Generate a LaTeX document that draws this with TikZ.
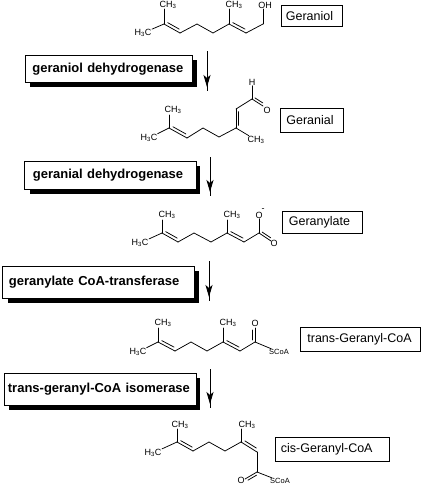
\documentclass[tikz,border=0pt]{standalone}
\usepackage{fontspec}
\setmainfont{Liberation Sans}
\usetikzlibrary{calc,arrows.meta}
\newcommand{\dbl}[3]{%
  \draw[bond] (#1) -- (#2);
  \coordinate (p) at ($(#1)!.14!(#2)$);
  \coordinate (q) at ($(#1)!.86!(#2)$);
  \draw[bond] ($(p)!#3!90:(q)$) -- ($(q)!#3!-90:(p)$);}
\newcommand{\methyl}{CH\textsubscript{3}}
\newcommand{\mhc}{H\textsubscript{3}C}
\tikzset{
  bond/.style={line width=0.75pt,line cap=round,line join=round},
  atomlabel/.style={font=\fontsize{9}{10}\selectfont,inner sep=0.6pt,outer sep=0pt},
  smalllabel/.style={font=\fontsize{7.5}{8}\selectfont,inner sep=0.6pt,outer sep=0pt},
  compound/.style={draw,line width=0.8pt,rectangle,font=\fontsize{12.5}{14}\selectfont,inner sep=0pt,anchor=north west,align=left},
  enzyme/.style={draw,line width=0.8pt,fill=white,rectangle,font=\bfseries\fontsize{13}{15}\selectfont,inner sep=0pt,anchor=north west,align=left},
  shadowbox/.style={fill=black,draw=none},
  flow/.style={line width=0.8pt},
  flowhead/.style={line width=0.8pt,-{Stealth[length=12pt,width=7pt,inset=3pt]}}
}
\begin{document}
\begin{tikzpicture}[x=1pt,y=-1pt]
\useasboundingbox (0,0) rectangle (424,485);
% --- enzyme boxes
\fill[shadowbox] (30,60) rectangle (197,87);
\node[enzyme,text width=167pt,minimum height=27pt] (e1) at (25,55) {\hspace*{7pt}geraniol dehydrogenase};
\fill[shadowbox] (30,166) rectangle (200,194);
\node[enzyme,text width=172pt,minimum height=28pt] (e2) at (24,161) {\hspace*{8.5pt}geranial dehydrogenase};
\fill[shadowbox] (8,271) rectangle (199,303);
\node[enzyme,text width=192pt,minimum height=32pt] (e3) at (2,266) {\hspace*{6.5pt}geranylate CoA-transferase};
\fill[shadowbox] (9,378) rectangle (200,410);
\node[enzyme,text width=192pt,minimum height=32pt] (e4) at (4,373) {\hspace*{3.5pt}trans-geranyl-CoA isomerase};
% --- compound boxes
\node[compound,text width=61pt,minimum height=21pt] (n1) at (281,5) {\hspace*{4.5pt}Geraniol};
\node[compound,text width=63pt,minimum height=24pt] (n2) at (280,108) {\hspace*{6pt}Geranial};
\node[compound,text width=80pt,minimum height=22pt] (n3) at (282,211) {\hspace*{6.5pt}Geranylate};
\node[compound,text width=120pt,minimum height=24pt] (n4) at (300,327) {\hspace*{7pt}trans-Geranyl-CoA};
\node[compound,text width=114pt,minimum height=24pt] (n5) at (275,437) {\hspace*{5.5pt}cis-Geranyl-CoA};
% --- reaction arrows
\foreach \i/\x/\ya/\yh/\yb in {1/207/51/87/91,2/210/157/192/196,3/209/261/297/301,4/210/369/404/408}{
  \coordinate (as\i) at (\x,\ya);
  \coordinate (ah\i) at (\x,\yh);
  \coordinate (ae\i) at (\x,\yb);
  \draw[flow] (as\i) -- (ae\i);
  \draw[flowhead] (as\i) -- (ah\i);
}
% --- geraniol
\coordinate (a1) at (164,24); \coordinate (a2) at (180,33); \coordinate (a3) at (197,24);
\coordinate (a4) at (213,33); \coordinate (a5) at (229,24); \coordinate (a6) at (246,33);
\coordinate (a7) at (263,24);
\node[atomlabel] (a8) at (168,5) {\methyl};
\node[atomlabel] (a9) at (143,33) {\mhc};
\node[atomlabel] (a10) at (234,5) {\methyl};
\node[atomlabel] (a11) at (265,5) {OH};
\dbl{a1}{a2}{3pt}
\dbl{a5}{a6}{3pt}
\draw[bond] (a2) -- (a3) -- (a4) -- (a5);
\draw[bond] (a6) -- (a7);
\draw[bond] (a1) -- (164,9);
\draw[bond] (a1) -- (a9);
\draw[bond] (a5) -- (229,9);
\draw[bond] (a7) -- (263,9);
% --- geranial
\coordinate (b1) at (169,128); \coordinate (b2) at (187,138); \coordinate (b3) at (203,128);
\coordinate (b4) at (219,137); \coordinate (b5) at (236,128); \coordinate (b6) at (236,109);
\coordinate (b7) at (252,99); \coordinate (b7o) at (263,106);
\node[atomlabel] (b8) at (173,110) {\methyl};
\node[atomlabel] (b9) at (149,138) {\mhc};
\node[atomlabel] (b10) at (256,140) {\methyl};
\node[atomlabel] (b11) at (252,82) {H};
\node[atomlabel] (b12) at (267,110) {O};
\dbl{b1}{b2}{3pt}
\dbl{b5}{b6}{-2.5pt}
\dbl{b7}{b7o}{2.5pt}
\draw[bond] (b2) -- (b3) -- (b4) -- (b5);
\draw[bond] (b6) -- (b7);
\draw[bond] (b1) -- (169,115);
\draw[bond] (b1) -- (b9);
\draw[bond] (b5) -- (b10);
\draw[bond] (b7) -- (b11);
% --- geranylate
\coordinate (c1) at (162,233); \coordinate (c2) at (178,242); \coordinate (c3) at (194,233);
\coordinate (c4) at (211,242); \coordinate (c5) at (227,233); \coordinate (c6) at (244,242);
\coordinate (c7) at (259,233); \coordinate (c7o) at (271,241);
\node[atomlabel] (c8) at (167,215) {\methyl};
\node[atomlabel] (c9) at (140,243) {\mhc};
\node[atomlabel] (c10) at (232,215) {\methyl};
\node[atomlabel] (c11) at (259,215) {O};
\node[atomlabel] (c12) at (274,243) {O};
\node[atomlabel] (c13) at (263,210) {-};
\dbl{c1}{c2}{3pt}
\dbl{c5}{c6}{3pt}
\dbl{c7}{c7o}{2.5pt}
\draw[bond] (c2) -- (c3) -- (c4) -- (c5);
\draw[bond] (c6) -- (c7);
\draw[bond] (c1) -- (162,220);
\draw[bond] (c1) -- (c9);
\draw[bond] (c5) -- (227,220);
\draw[bond] (c7) -- (c11);
% --- trans-geranyl-CoA
\coordinate (d1) at (158,342); \coordinate (d2) at (175,351); \coordinate (d3) at (191,342);
\coordinate (d4) at (207,351); \coordinate (d5) at (223,342); \coordinate (d6) at (240,351);
\coordinate (d7) at (255,342); \coordinate (d7o) at (255,328);
\node[atomlabel] (d8) at (163,323) {\methyl};
\node[atomlabel] (d9) at (138,352) {\mhc};
\node[atomlabel] (d10) at (228,323) {\methyl};
\node[atomlabel] (d11) at (255,323) {O};
\node[smalllabel] (d12) at (279,352) {SCoA};
\dbl{d1}{d2}{3pt}
\dbl{d5}{d6}{3pt}
\dbl{d7}{d7o}{2.5pt}
\draw[bond] (d2) -- (d3) -- (d4) -- (d5);
\draw[bond] (d6) -- (d7);
\draw[bond] (d1) -- (158,328);
\draw[bond] (d1) -- (d9);
\draw[bond] (d5) -- (223,328);
\draw[bond] (d7) -- (d12);
% --- cis-geranyl-CoA
\coordinate (f1) at (177,442); \coordinate (f2) at (193,451); \coordinate (f3) at (209,442);
\coordinate (f4) at (225,451); \coordinate (f5) at (241,442); \coordinate (f6) at (257,452);
\coordinate (f7) at (257,472); \coordinate (f7o) at (245,479);
\node[atomlabel] (f8) at (180,425) {\methyl};
\node[atomlabel] (f9) at (153,453) {\mhc};
\node[atomlabel] (f10) at (247,425) {\methyl};
\node[atomlabel] (f11) at (241,480) {O};
\node[smalllabel] (f12) at (280,481) {SCoA};
\dbl{f1}{f2}{3pt}
\dbl{f5}{f6}{3pt}
\dbl{f7}{f7o}{2.5pt}
\draw[bond] (f2) -- (f3) -- (f4) -- (f5);
\draw[bond] (f6) -- (f7);
\draw[bond] (f1) -- (177,429);
\draw[bond] (f1) -- (f9);
\draw[bond] (f5) -- (241,429);
\draw[bond] (f7) -- (f12);
\end{tikzpicture}
\end{document}
